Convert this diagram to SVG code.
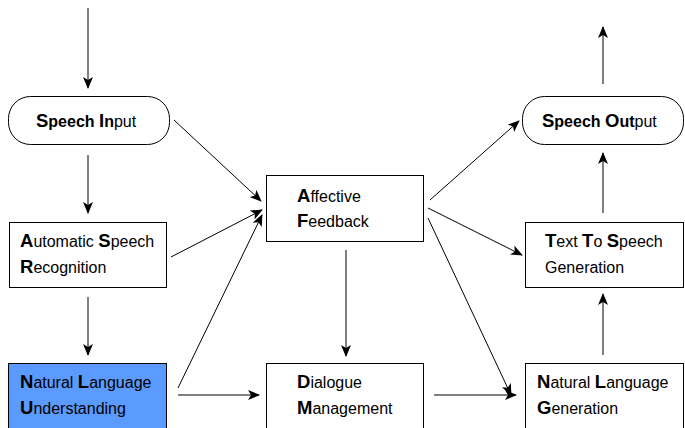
<svg xmlns="http://www.w3.org/2000/svg" width="685" height="428" viewBox="0 0 685 428">
  <defs>
    <marker id="arrow" viewBox="0 0 12 10" refX="11" refY="5" markerWidth="12" markerHeight="10" markerUnits="userSpaceOnUse" orient="auto">
      <path d="M0,0 L12,5 L0,10 L3,5 Z" fill="#000"/>
    </marker>
  </defs>
  <style>
    .box { fill: #fff; stroke: #000; stroke-width: 1; }
    .hl { fill: #5b9bff; }
    .lbl { font-family: "Liberation Sans", Arial, sans-serif; font-size: 16px; fill: #000; }
    .cap { font-size: 18.5px; font-weight: bold; }
    .b { font-weight: bold; }
    .edge { stroke: #000; stroke-width: 1; fill: none; marker-end: url(#arrow); }
  </style>

  <rect width="685" height="428" fill="#fff"/>

  <g id="connectors">
    <line class="edge" x1="88" y1="8" x2="88" y2="88"/>
    <line class="edge" x1="88" y1="155" x2="88" y2="213"/>
    <line class="edge" x1="88" y1="297" x2="88" y2="355"/>
    <line class="edge" x1="174" y1="120" x2="261" y2="201"/>
    <line class="edge" x1="171" y1="257" x2="262" y2="210"/>
    <line class="edge" x1="178" y1="388" x2="262" y2="215"/>
    <line class="edge" x1="178" y1="395" x2="259" y2="395"/>
    <line class="edge" x1="346" y1="250" x2="346" y2="356"/>
    <line class="edge" x1="430" y1="200" x2="519" y2="121"/>
    <line class="edge" x1="428" y1="208" x2="522" y2="255"/>
    <line class="edge" x1="428" y1="218" x2="511" y2="395"/>
    <line class="edge" x1="434" y1="395" x2="516" y2="395"/>
    <line class="edge" x1="603" y1="355" x2="603" y2="294"/>
    <line class="edge" x1="603" y1="213" x2="603" y2="153"/>
    <line class="edge" x1="603" y1="84" x2="603" y2="27"/>
  </g>

  <g id="speech-input">
    <rect class="box" x="8.5" y="96.5" width="161" height="48" rx="22" ry="22"/>
    <text class="lbl" x="36" y="127"><tspan class="cap">S</tspan><tspan class="b">peech </tspan><tspan class="cap">I</tspan><tspan class="b">n</tspan>put</text>
  </g>

  <g id="asr">
    <rect class="box" x="9.5" y="222.5" width="157" height="65"/>
    <text class="lbl" x="20" y="247"><tspan class="cap">A</tspan>utomatic <tspan class="cap">S</tspan>peech</text>
    <text class="lbl" x="20" y="273"><tspan class="cap">R</tspan>ecognition</text>
  </g>

  <g id="nlu">
    <rect class="box hl" x="8.5" y="363.5" width="158" height="70"/>
    <text class="lbl" x="20" y="388"><tspan class="cap">N</tspan>atural <tspan class="cap">L</tspan>anguage</text>
    <text class="lbl" x="20" y="414"><tspan class="cap">U</tspan>nderstanding</text>
  </g>

  <g id="affective-feedback">
    <rect class="box" x="266.5" y="175.5" width="157" height="66"/>
    <text class="lbl" x="297" y="202"><tspan class="cap">A</tspan>ffective</text>
    <text class="lbl" x="297" y="227"><tspan class="cap">F</tspan>eedback</text>
  </g>

  <g id="dialogue-management">
    <rect class="box" x="266.5" y="363.5" width="157" height="70"/>
    <text class="lbl" x="297" y="388"><tspan class="cap">D</tspan>ialogue</text>
    <text class="lbl" x="297" y="414"><tspan class="cap">M</tspan>anagement</text>
  </g>

  <g id="speech-output">
    <rect class="box" x="522.5" y="96.5" width="161" height="48" rx="22" ry="22"/>
    <text class="lbl" x="542" y="127"><tspan class="cap">S</tspan><tspan class="b">peech </tspan><tspan class="cap">O</tspan><tspan class="b">ut</tspan>put</text>
  </g>

  <g id="tts">
    <rect class="box" x="525.5" y="222.5" width="158" height="65"/>
    <text class="lbl" x="545" y="247"><tspan class="cap">T</tspan>ext <tspan class="cap">T</tspan>o <tspan class="cap">S</tspan>peech</text>
    <text class="lbl" x="545" y="273">Generation</text>
  </g>

  <g id="nlg">
    <rect class="box" x="525.5" y="363.5" width="158" height="70"/>
    <text class="lbl" x="537" y="388"><tspan class="cap">N</tspan>atural <tspan class="cap">L</tspan>anguage</text>
    <text class="lbl" x="537" y="414"><tspan class="cap">G</tspan>eneration</text>
  </g>
</svg>
